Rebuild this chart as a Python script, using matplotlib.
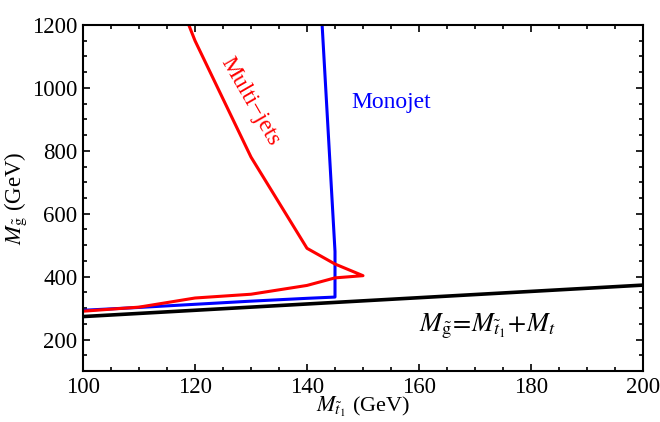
import matplotlib
matplotlib.use("Agg")
import matplotlib.pyplot as plt
from matplotlib.ticker import MultipleLocator

plt.rcParams['font.family'] = ['Liberation Serif', 'DejaVu Serif']
plt.rcParams['mathtext.fontset'] = 'stix'

# Limite cinematico M_gluino = M_stop + M_top
m_top = 173
kin_x = [100, 200]
kin_y = [x + m_top for x in kin_x]

# Contorno monojet
mono_x = [100, 110, 120, 130, 140, 145, 145, 142.7]
mono_y = [293, 302, 312, 322, 331, 335, 480, 1200]

# Contorno multi-jets
multi_x = [100, 110, 120, 130, 140, 145, 150, 145, 140, 130, 120, 118.0]
multi_y = [290, 303, 332, 344, 372, 396, 403, 440, 490, 780, 1150, 1240]

fig = plt.figure(figsize=(6.6, 4.22), dpi=100)
ax = fig.add_axes([0.1258, 0.1209, 0.8484, 0.8199])

ax.plot(kin_x, kin_y, color='black', lw=2.6, solid_capstyle='butt')
ax.plot(mono_x, mono_y, color='#0000ff', lw=2.2)
ax.plot(multi_x, multi_y, color='#ff0000', lw=2.2)

ax.set_xlim(100, 200)
ax.set_ylim(100, 1200)

ax.xaxis.set_major_locator(MultipleLocator(20))
ax.xaxis.set_minor_locator(MultipleLocator(5))
ax.yaxis.set_major_locator(MultipleLocator(200))
ax.yaxis.set_minor_locator(MultipleLocator(50))
ax.tick_params(which='both', direction='in', top=True, right=True,
               width=1.2, labelsize=16.5)
ax.tick_params(which='major', length=5, pad=4)
ax.tick_params(which='minor', length=3)
ax.set_yticks([200, 400, 600, 800, 1000, 1200])
for s in ax.spines.values():
    s.set_linewidth(1.5)

ax.set_xlabel(r'$M_{\tilde{t}_1}$ (GeV)', fontsize=16, labelpad=-2)
ax.set_ylabel(r'$M_{\tilde{\mathrm{g}}}$ (GeV)', fontsize=16.5, labelpad=2)

ax.text(129.9, 956, 'Multi\u2212jets', color='#ff0000', fontsize=17,
        rotation=-60, ha='center', va='center')
ax.text(155.1, 953, 'Monojet', color='#0000ff', fontsize=17,
        ha='center', va='center')
ax.text(172.3, 241, r'$M_{\tilde{\mathrm{g}}}\!=\!M_{\tilde{t}_1}\!+\!M_t$',
        color='black', fontsize=19, ha='center', va='center')

fig.savefig('out.png', dpi=100)
